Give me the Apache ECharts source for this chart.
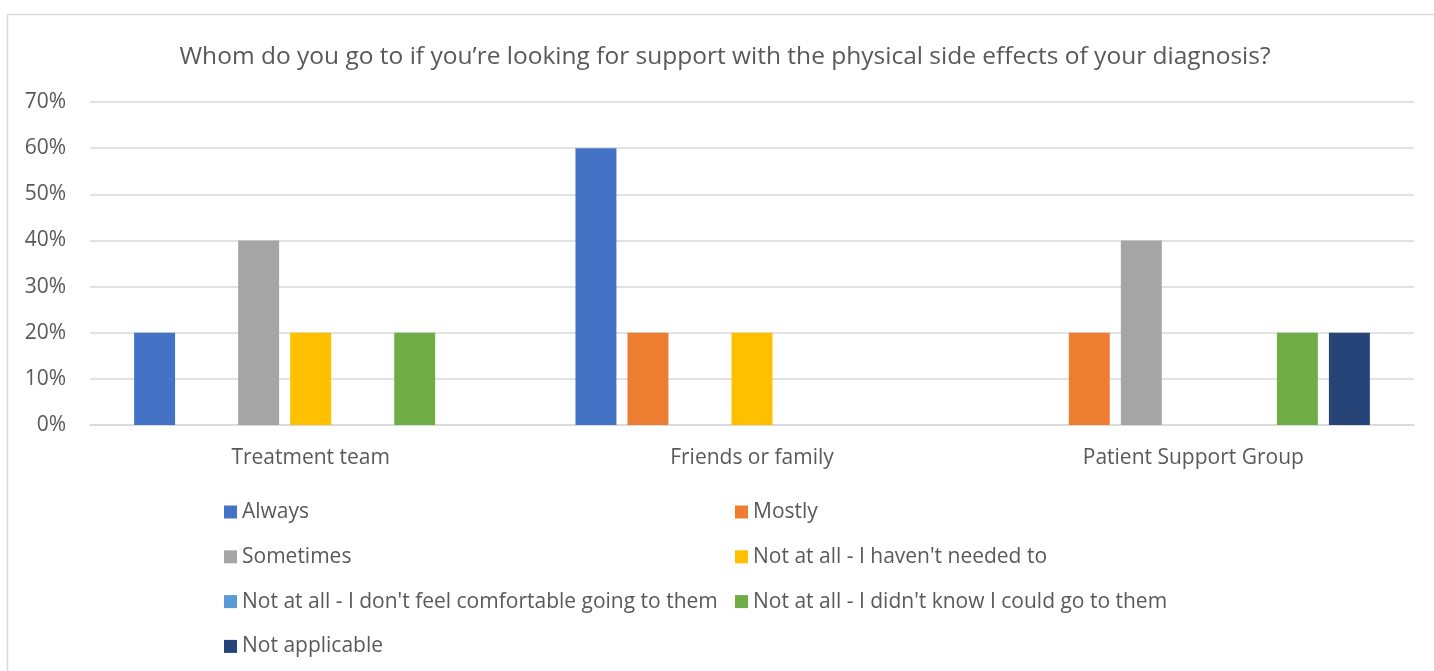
<!DOCTYPE html>
<html>
<head>
<meta charset="utf-8">
<script src="https://cdn.jsdelivr.net/npm/echarts@6/dist/echarts.min.js"></script>
<style>
  html, body { margin: 0; padding: 0; background: #fff; }
  #chart { width: 1434px; height: 671px; }
</style>
</head>
<body>
<div id="chart"></div>
<script>
// Survey: where respondents go for support with physical side effects
const titleText = 'Whom do you go to if you\u2019re looking for support with the physical side effects of your diagnosis?';
const categories = ['Treatment team', 'Friends or family', 'Patient Support Group'];

// Share of respondents (%) per answer, one value per category
const always         = [20, 60, 0];
const mostly         = [0, 20, 20];
const sometimes      = [40, 0, 40];
const notNeeded      = [20, 20, 0];
const notComfortable = [0, 0, 0];
const didntKnow      = [20, 0, 20];
const notApplicable  = [0, 0, 20];

const yTicks = [0, 10, 20, 30, 40, 50, 60, 70];

const seriesDefs = [
  { name: 'Always', data: always, color: '#4472C4' },
  { name: 'Mostly', data: mostly, color: '#ED7D31' },
  { name: 'Sometimes', data: sometimes, color: '#A5A5A5' },
  { name: "Not at all - I haven't needed to", data: notNeeded, color: '#FFC000' },
  { name: "Not at all - I don't feel comfortable going to them", data: notComfortable, color: '#5B9BD5' },
  { name: "Not at all - I didn't know I could go to them", data: didntKnow, color: '#70AD47' },
  { name: 'Not applicable', data: notApplicable, color: '#264478' }
];

const FONT = '"Open Sans", "Liberation Sans", sans-serif';
const TEXT = '#595959';

const chart = echarts.init(document.getElementById('chart'), null, { renderer: 'canvas' });

const legendText = { color: TEXT, fontFamily: FONT, fontSize: 21, lineHeight: 22 };

chart.setOption({
  backgroundColor: '#ffffff',
  animation: false,
  graphic: [{
    type: 'rect',
    shape: { x: 7.5, y: 14.5, width: 1440, height: 680 },
    style: { fill: 'none', stroke: '#d9d9d9', lineWidth: 1.5 },
    silent: true,
    z: -1
  }],
  title: {
    text: titleText,
    left: 720,
    textAlign: 'center',
    top: 40,
    textStyle: { color: TEXT, fontFamily: FONT, fontSize: 24.5, fontWeight: 'normal' }
  },
  grid: { left: 90, right: 20, top: 102, bottom: 246, containLabel: false },
  xAxis: {
    type: 'category',
    data: categories,
    axisLine: { show: true, lineStyle: { color: '#d9d9d9', width: 1.5 } },
    axisTick: { show: false },
    axisLabel: { color: TEXT, fontFamily: FONT, fontSize: 21, margin: 23 }
  },
  yAxis: {
    type: 'value',
    min: yTicks[0],
    max: yTicks[yTicks.length - 1],
    interval: 10,
    axisLine: { show: false },
    axisTick: { show: false },
    splitLine: { lineStyle: { color: '#d9d9d9', width: 1.5 } },
    axisLabel: { color: TEXT, fontFamily: FONT, fontSize: 21, margin: 24, formatter: '{value}%' }
  },
  legend: [
    {
      orient: 'vertical',
      left: 224,
      top: 501,
      padding: 0,
      itemWidth: 13,
      itemHeight: 13,
      itemGap: 22.8,
      icon: 'rect',
      textStyle: legendText,
      data: [seriesDefs[0].name, seriesDefs[2].name, seriesDefs[4].name, seriesDefs[6].name]
    },
    {
      orient: 'vertical',
      left: 735,
      top: 501,
      padding: 0,
      itemWidth: 13,
      itemHeight: 13,
      itemGap: 22.8,
      icon: 'rect',
      textStyle: legendText,
      data: [seriesDefs[1].name, seriesDefs[3].name, seriesDefs[5].name]
    }
  ],
  series: seriesDefs.map(s => ({
    name: s.name,
    type: 'bar',
    data: s.data,
    itemStyle: { color: s.color },
    barGap: '27%',
    barCategoryGap: '20%'
  }))
});
</script>
</body>
</html>
